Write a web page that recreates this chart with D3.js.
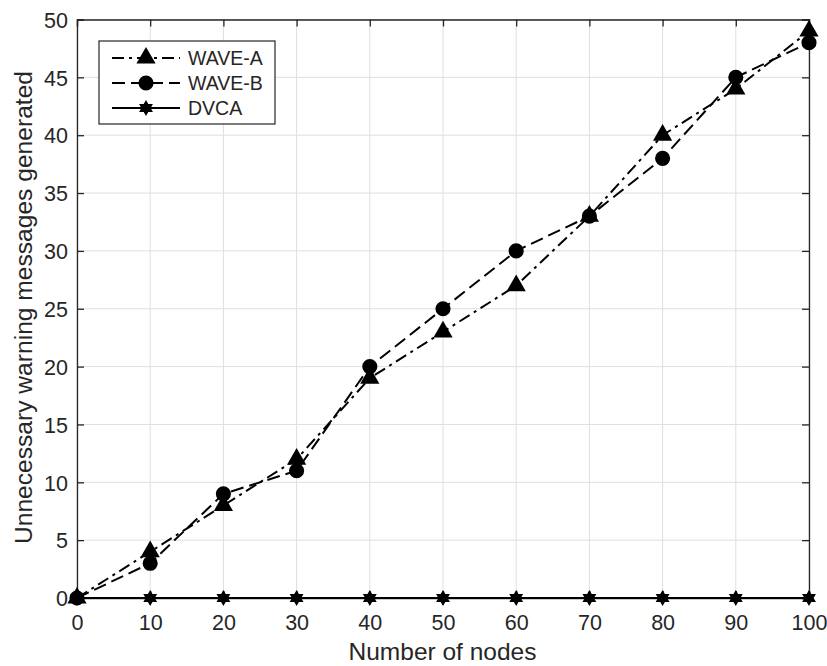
<!DOCTYPE html>
<html>
<head>
<meta charset="utf-8">
<script src="https://cdn.jsdelivr.net/npm/d3@7"></script>
<style>
  body { margin: 0; background: #fff; }
  text { font-family: "Liberation Sans", Arial, sans-serif; fill: #262626; }
</style>
</head>
<body>
<div id="chart"></div>
<script>
const nodes = [0, 10, 20, 30, 40, 50, 60, 70, 80, 90, 100];
const waveA = [0, 4, 8, 12, 19, 23, 27, 33, 40, 44, 49];
const waveB = [0, 3, 9, 11, 20, 25, 30, 33, 38, 45, 48];
const dvca = [0, 0, 0, 0, 0, 0, 0, 0, 0, 0, 0];
const xTicks = [0, 10, 20, 30, 40, 50, 60, 70, 80, 90, 100];
const yTicks = [0, 5, 10, 15, 20, 25, 30, 35, 40, 45, 50];

const width = 827, height = 666;
const margin = { top: 19.5, right: 18, bottom: 68, left: 77 };
const innerW = width - margin.left - margin.right;
const innerH = height - margin.top - margin.bottom;

const svg = d3.select("#chart").append("svg")
  .attr("width", width).attr("height", height);

const g = svg.append("g")
  .attr("transform", `translate(${margin.left},${margin.top})`);

const x = d3.scaleLinear().domain([0, 100]).range([0, innerW]);
const y = d3.scaleLinear().domain([0, 50]).range([innerH, 0]);

// grid
g.append("g").selectAll("line").data(xTicks).enter().append("line")
  .attr("x1", d => x(d)).attr("x2", d => x(d))
  .attr("y1", 0).attr("y2", innerH)
  .style("stroke", "#dfdfdf").style("stroke-width", 1);
g.append("g").selectAll("line").data(yTicks).enter().append("line")
  .attr("y1", d => y(d)).attr("y2", d => y(d))
  .attr("x1", 0).attr("x2", innerW)
  .style("stroke", "#dfdfdf").style("stroke-width", 1);

// axes, MATLAB style ticks inside
const tick = 7;
const xAxis = g.append("g").attr("transform", `translate(0,${innerH})`)
  .call(d3.axisBottom(x).tickValues(xTicks).tickSize(-tick).tickPadding(17));
const xTop = g.append("g")
  .call(d3.axisTop(x).tickValues(xTicks).tickSize(-tick).tickFormat(""));
const yAxis = g.append("g")
  .call(d3.axisLeft(y).tickValues(yTicks).tickSize(-tick).tickPadding(9));
const yRight = g.append("g").attr("transform", `translate(${innerW},0)`)
  .call(d3.axisRight(y).tickValues(yTicks).tickSize(-tick).tickFormat(""));

[xAxis, xTop, yAxis, yRight].forEach(a => {
  a.select(".domain").style("stroke", "#262626").style("stroke-width", 1.3);
  a.selectAll(".tick line").style("stroke", "#262626").style("stroke-width", 1.3);
  a.selectAll(".tick text").style("font-size", "21.5px")
    .style("font-family", "'Liberation Sans', Arial, sans-serif").style("fill", "#262626");
});
yAxis.selectAll(".tick text").attr("dy", "0.36em");

// axis titles
svg.append("text")
  .attr("x", 442.5).attr("y", 660)
  .attr("text-anchor", "middle").style("font-size", "24.5px")
  .text("Number of nodes");
svg.append("text")
  .attr("transform", `translate(31.5,307.5) rotate(-90)`)
  .attr("text-anchor", "middle").style("font-size", "24.6px")
  .text("Unnecessary warning messages generated");

const series = [
  { name: "WAVE-A", values: waveA, dash: "12,5,3,5", symbol: d3.symbolTriangle, size: 160 },
  { name: "WAVE-B", values: waveB, dash: "13,6", symbol: d3.symbolCircle, size: 180 },
  { name: "DVCA", values: dvca, dash: null, symbol: "hexagram", size: 8 }
];

function hexagram(r) {
  const pts = [];
  for (let i = 0; i < 12; i++) {
    const a = -Math.PI / 2 + i * Math.PI / 6;
    const rr = i % 2 === 0 ? r : r * 0.577;
    pts.push([rr * Math.cos(a), rr * Math.sin(a)]);
  }
  return "M" + pts.map(p => p.join(",")).join("L") + "Z";
}

function markerPath(s) {
  if (s.symbol === "hexagram") return hexagram(s.size);
  return d3.symbol().type(s.symbol).size(s.size)();
}

const line = d3.line().x((d, i) => x(nodes[i])).y(d => y(d));

// draw DVCA first, others over
[series[2], series[0], series[1]].forEach(s => {
  g.append("path").datum(s.values)
    .attr("d", line)
    .style("fill", "none").style("stroke", "#000").style("stroke-width", 2)
    .style("stroke-dasharray", s.dash);
  g.append("g").selectAll("path").data(s.values).enter().append("path")
    .attr("transform", (d, i) => `translate(${x(nodes[i])},${y(d)})`)
    .attr("d", markerPath(s))
    .style("fill", "#000");
});

// legend
const leg = svg.append("g").attr("transform", "translate(99,41)");
leg.append("rect").attr("width", 176).attr("height", 83)
  .style("fill", "#fff").style("stroke", "#262626").style("stroke-width", 1.2);
series.forEach((s, i) => {
  const ly = 17 + i * 25;
  leg.append("line").attr("x1", 13).attr("x2", 81).attr("y1", ly).attr("y2", ly)
    .style("stroke", "#000").style("stroke-width", 2)
    .style("stroke-dasharray", s.dash);
  leg.append("path").attr("transform", `translate(47,${ly})`)
    .attr("d", markerPath(s)).style("fill", "#000");
  leg.append("text").attr("x", 89).attr("y", ly).attr("dy", "0.36em")
    .style("font-size", "19.5px").text(s.name);
});
</script>
</body>
</html>
